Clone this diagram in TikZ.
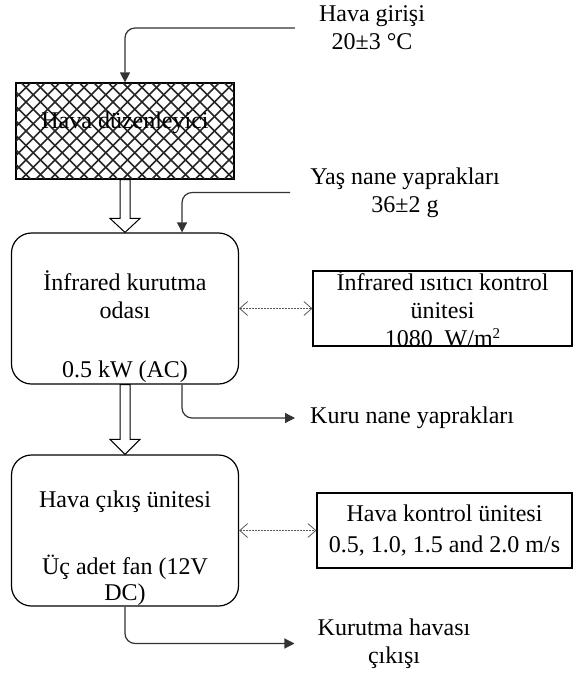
\documentclass[tikz,border=0pt]{standalone}
\usepackage{fontspec}
\setmainfont{Liberation Serif}
\usetikzlibrary{arrows.meta,calc}

\begin{document}
\begin{tikzpicture}[x=1pt,y=-1pt,font=\fontsize{24}{28}\selectfont,
	room/.style={draw,line width=1.2pt,minimum width=227pt,minimum height=151pt,rounded corners=20pt},
	ctrl/.style={draw,line width=1.2pt,minimum height=75pt,inner ysep=-1.5pt,align=center},
	txt/.style={align=center,inner sep=3pt},
	flow/.style={draw=black!80,line width=1.2pt,rounded corners=10pt,-{Triangle[length=10pt,width=10pt]}},
	link/.style={draw=black!65,line width=0.8pt,dash pattern=on 2pt off 1pt,{Straight Barb[length=8pt,width=14pt]}-{Straight Barb[length=8pt,width=14pt]}},
	hollow/.style={draw,fill=white,line width=1pt},
	hatch/.style={line width=1.6pt,black!85}]
		\useasboundingbox (0,0) rectangle (573,677);
		% hava duzenleyici
		\node[draw,line width=1.2pt,fill=white,minimum width=218pt,minimum height=96pt] (duz) at (125,131) {};
		\begin{scope}
			\clip (duz.south west) rectangle (duz.north east);
			\foreach \k in {0,...,22} {
				\draw[hatch] (16+\k*14.5-96,83) -- (16+\k*14.5,179);
				\draw[hatch] (16+\k*14.5,83) -- (16+\k*14.5-96,179);
			}
		\end{scope}
		\draw[line width=1.2pt] (duz.south west) rectangle (duz.north east);
		\node (duzname) at (125,123) {Hava düzenleyici};
		% odalar
		\node[room] (kur) at (125,308.5) {};
		\node[txt] (kurname) at (125,294.5) {İnfrared kurutma\\odası};
		\node[txt] (kurpow) at (125,372) {0.5 kW (AC)};
		\node[room] (hc) at (125,530.5) {};
		\node[txt] (hcname) at (125,502) {Hava çıkış ünitesi};
		\node[txt] (hcfan) at (125,580) {Üç adet fan (12V\\[-2pt]DC)};
		% kontrol uniteleri
		\node[ctrl,minimum width=259pt] (irctl) at (442.5,308.5) {İnfrared ısıtıcı kontrol\\ünitesi\\1080\ \ W/m\raisebox{8pt}{\fontsize{15}{15}\selectfont 2}};
		\node[ctrl,minimum width=255pt] (airctl) at (444.5,530.5) {Hava kontrol ünitesi\\[3pt]0.5, 1.0, 1.5 and 2.0 m/s};
		% giris ve cikislar
		\node[txt] (giris) at (372,28) {Hava girişi\\20±3 °C};
		\node[txt] (yas) at (405,192.5) {Yaş nane yaprakları\\36±2 g};
		\node[txt,anchor=west] (kuru) at (307,418) {Kuru nane yaprakları};
		\node[txt] (cikis) at (394,643.5) {Kurutma havası\\çıkışı};
		\draw[flow,shorten <=21pt] (giris.west) -| (duz.north);
		\draw[flow,shorten <=17pt] (yas.west) -| ($(kur.north)!0.5!(kur.north east)$);
		\draw[flow,shorten >=12pt] ($(kur.south)!0.5!(kur.south east)$) |- (kuru.west);
		\draw[flow,shorten >=20pt] (hc.south) |- (cikis.west);
		\draw[link] (kur.east) -- (irctl.west);
		\draw[link] (hc.east) -- (airctl.west);
		% bos oklar
		\draw[hollow] ([xshift=-5pt]duz.south) -- ([xshift=-5pt,yshift=14pt]kur.north) -- ([xshift=-15pt,yshift=14pt]kur.north) -- (kur.north) -- ([xshift=15pt,yshift=14pt]kur.north) -- ([xshift=5pt,yshift=14pt]kur.north) -- ([xshift=5pt]duz.south) -- cycle;
		\draw[hollow] ([xshift=-5pt]kur.south) -- ([xshift=-5pt,yshift=15pt]hc.north) -- ([xshift=-15pt,yshift=15pt]hc.north) -- (hc.north) -- ([xshift=15pt,yshift=15pt]hc.north) -- ([xshift=5pt,yshift=15pt]hc.north) -- ([xshift=5pt]kur.south) -- cycle;
	\end{tikzpicture}
\end{document}
